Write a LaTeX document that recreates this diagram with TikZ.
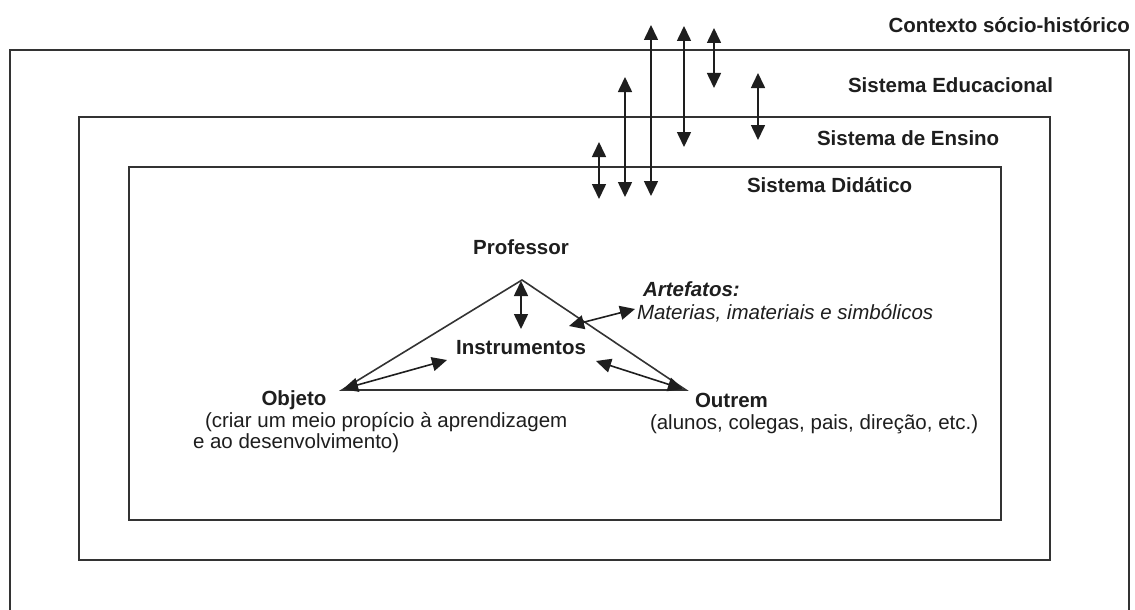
\documentclass[tikz,border=0pt]{standalone}
\usepackage{fontspec}
\setmainfont{Liberation Sans}
\usetikzlibrary{arrows.meta}
\definecolor{ink}{HTML}{1E1E1E}
\definecolor{linec}{HTML}{333333}
\begin{document}
\begin{tikzpicture}[x=1pt,y=-1pt,
  every node/.style={inner sep=0pt,outer sep=0pt,text=ink,font=\fontsize{20.5}{20.5}\selectfont},
  frame/.style={draw=linec,line width=1.7pt},
  tri/.style={draw=linec,line width=1.6pt},
  dbl/.style={draw=ink,line width=1.6pt,{Triangle[length=15pt,width=14pt]}-{Triangle[length=15pt,width=14pt]}},
  lbl/.style={font=\fontsize{20.5}{20.5}\selectfont\bfseries},
  txt/.style={font=\fontsize{20.5}{21}\selectfont,align=left}]
\useasboundingbox (0,0) rectangle (1135,610);
\fill[white] (0,0) rectangle (1135,610);
% frames
\draw[frame] (10,612) -- (10,50) -- (1129,50) -- (1129,612);
\draw[frame] (79,117) rectangle (1050,560);
\draw[frame] (129,167) rectangle (1001,520);
% frame labels
\node[lbl,anchor=east] (ctx) at (1130,25) {Contexto sócio-histórico};
\node[lbl,anchor=west] (edu) at (848,85) {Sistema Educacional};
\node[lbl,anchor=west] (ens) at (817,138) {Sistema de Ensino};
\node[lbl,anchor=west] (did) at (747,185) {Sistema Didático};
% vertical arrows
\coordinate (a1) at (599,142); \coordinate (a2) at (599,199);
\coordinate (b1) at (625,77);  \coordinate (b2) at (625,197);
\coordinate (c1) at (651,25);  \coordinate (c2) at (651,196);
\coordinate (d1) at (684,26);  \coordinate (d2) at (684,147);
\coordinate (e1) at (714,28);  \coordinate (e2) at (714,88);
\coordinate (f1) at (758,73);  \coordinate (f2) at (758,140);
\draw[dbl] (a1) -- (a2);
\draw[dbl] (b1) -- (b2);
\draw[dbl] (c1) -- (c2);
\draw[dbl] (d1) -- (d2);
\draw[dbl] (e1) -- (e2);
\draw[dbl] (f1) -- (f2);
% triangle
\coordinate (P) at (522,280);
\coordinate (O) at (342,390);
\coordinate (R) at (686,390);
\draw[tri,line join=miter] (O) -- (P) -- (R) -- cycle;
\node[lbl] (prof) at (521,247) {Professor};
\node[lbl] (inst) at (521,348) {Instrumentos};
\node[lbl] (obj) at (294,400) {Objeto};
\node[lbl,anchor=west] (out) at (695,400) {Outrem};
\node[txt,anchor=north west] (objd) at (193,412) {\hspace{12pt}(criar um meio propício à aprendizagem\\e ao desenvolvimento)};
\node[txt,anchor=north west] (outd) at (650,415) {(alunos, colegas, pais, direção, etc.)};
\node[txt,anchor=north west,font=\fontsize{20.5}{23}\selectfont\itshape] (art) at (637,282) {\hspace{6pt}\textbf{Artefatos:}\\Materias, imateriais e simbólicos};
% instrument arrows
\coordinate (pi1) at (521,281); \coordinate (pi2) at (521,329);
\coordinate (oi1) at (343,389); \coordinate (oi2) at (447,360);
\coordinate (ri1) at (683,389); \coordinate (ri2) at (596,361);
\coordinate (ar1) at (569,326); \coordinate (ar2) at (635,309);
\draw[dbl] (pi1) -- (pi2);
\draw[dbl] (oi1) -- (oi2);
\draw[dbl] (ri1) -- (ri2);
\draw[dbl] (ar1) -- (ar2);
\end{tikzpicture}
\end{document}
